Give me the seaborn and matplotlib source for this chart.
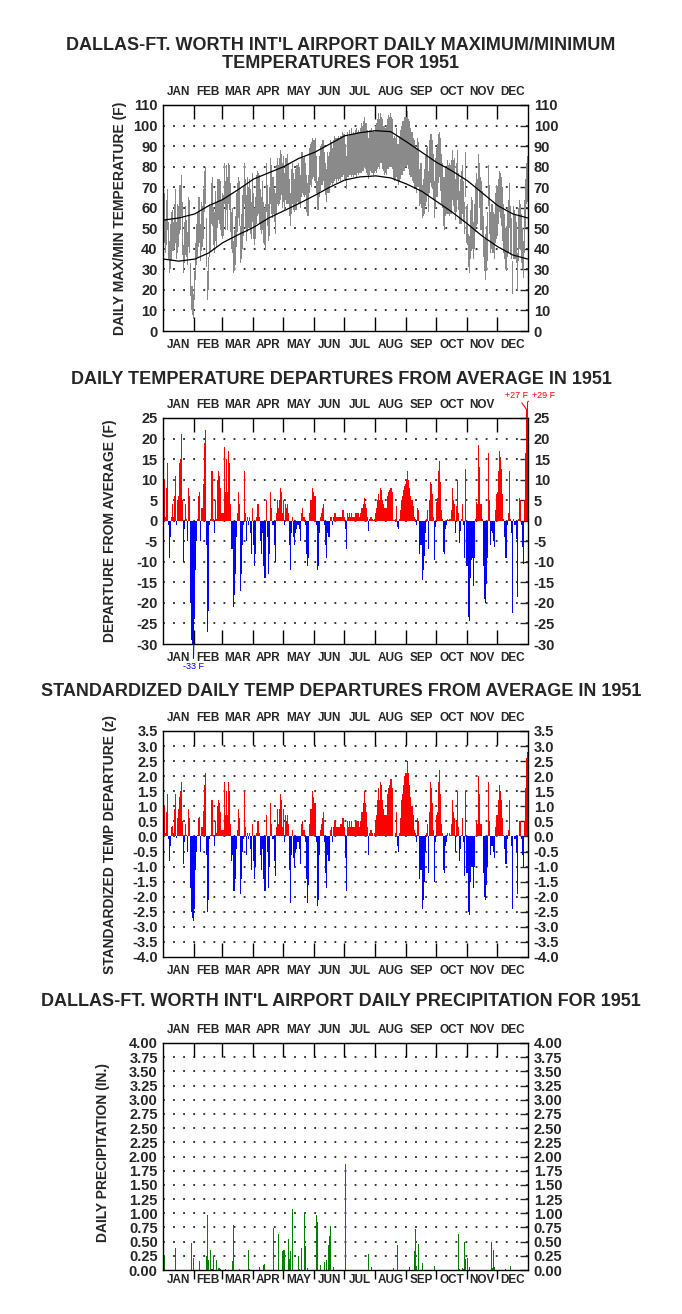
import numpy as np
import matplotlib
matplotlib.use("Agg")
import matplotlib.pyplot as plt
import seaborn as sns

# DFW 1951 daily max/min temps, departures, standardized departures, precipitation
month_names = ["JAN", "FEB", "MAR", "APR", "MAY", "JUN", "JUL", "AUG", "SEP", "OCT", "NOV", "DEC"]
month_len = [31, 28, 31, 30, 31, 30, 31, 31, 30, 31, 30, 31]

# daily maximum temperature (F), one line per month
tmax = [
    67, 67, 54, 64, 69, 53, 44, 52, 58, 59, 53, 62, 69, 53, 62, 61, 71, 71, 76, 63, 42, 53, 61, 54, 48, 65, 64, 33, 22, 22, 18,
    29, 43, 52, 58, 65, 65, 52, 63, 61, 69, 78, 80, 55, 29, 36, 62, 61, 72, 75, 60, 58, 68, 63, 74, 74, 74, 73, 64,
    67, 66, 82, 73, 81, 75, 82, 81, 72, 58, 60, 44, 49, 56, 67, 72, 75, 73, 51, 57, 66, 70, 82, 74, 66, 75, 70, 74, 69, 63, 77,
    67, 60, 65, 76, 78, 77, 76, 69, 65, 73, 63, 60, 62, 82, 71, 62, 70, 84, 81, 75, 75, 69, 67, 81, 84, 81, 84, 88, 86, 82,
    85, 77, 84, 84, 86, 82, 74, 67, 79, 82, 77, 74, 79, 81, 81, 82, 80, 76, 87, 87, 84, 85, 82, 76, 72, 76, 89, 91, 92, 94, 93,
    93, 94, 85, 73, 75, 85, 90, 91, 93, 93, 87, 82, 79, 87, 85, 87, 93, 92, 89, 93, 95, 94, 94, 94, 95, 94, 95, 95, 97, 96,
    96, 91, 85, 97, 95, 98, 96, 99, 96, 97, 96, 98, 99, 97, 98, 97, 99, 101, 100, 102, 104, 101, 101, 98, 94, 98, 98, 99, 97, 98, 97,
    100, 101, 103, 106, 103, 106, 104, 103, 100, 100, 99, 100, 103, 105, 104, 106, 104, 103, 94, 95, 94, 99, 91, 91, 95, 98, 100, 102, 102, 104, 104,
    104, 107, 103, 102, 99, 97, 97, 94, 93, 90, 89, 94, 92, 79, 82, 82, 71, 74, 79, 85, 89, 90, 78, 93, 96, 96, 93, 86, 73, 84,
    89, 91, 96, 97, 94, 86, 82, 75, 75, 80, 79, 83, 81, 82, 81, 83, 88, 83, 84, 74, 82, 88, 77, 68, 74, 78, 81, 73, 63, 87, 61,
    62, 47, 46, 59, 65, 64, 53, 62, 72, 77, 74, 86, 82, 75, 73, 68, 56, 45, 47, 51, 58, 81, 71, 58, 62, 62, 58, 57, 67, 71,
    70, 74, 78, 77, 75, 70, 62, 57, 50, 51, 60, 64, 72, 61, 55, 34, 61, 59, 57, 53, 38, 60, 64, 62, 57, 50, 44, 64, 74, 82, 85,
]

# daily minimum temperature (F)
tmin = [
    47, 43, 38, 42, 49, 35, 28, 30, 34, 39, 39, 40, 43, 35, 38, 41, 47, 49, 56, 37, 28, 33, 37, 36, 32, 41, 38, 17, 10, 8, 6,
    15, 25, 32, 36, 41, 43, 34, 39, 41, 45, 58, 62, 31, 15, 20, 36, 39, 52, 51, 42, 38, 44, 41, 50, 54, 52, 49, 46,
    45, 46, 62, 49, 59, 49, 62, 59, 48, 40, 38, 28, 29, 32, 41, 48, 55, 51, 33, 35, 40, 46, 62, 50, 44, 48, 50, 50, 47, 45, 53,
    45, 42, 45, 52, 56, 57, 52, 49, 47, 49, 43, 42, 40, 58, 51, 44, 46, 62, 57, 55, 57, 53, 47, 57, 62, 61, 62, 64, 66, 60,
    63, 59, 64, 62, 62, 62, 56, 51, 57, 62, 59, 58, 59, 59, 63, 62, 62, 60, 65, 67, 66, 65, 66, 58, 56, 56, 67, 71, 70, 74, 75,
    73, 72, 67, 59, 59, 65, 68, 71, 71, 73, 69, 66, 63, 67, 67, 67, 71, 72, 71, 72, 73, 74, 72, 74, 73, 74, 73, 75, 75, 76,
    74, 73, 69, 75, 75, 76, 76, 75, 76, 75, 76, 76, 75, 77, 76, 77, 77, 77, 78, 78, 80, 79, 77, 76, 74, 76, 78, 77, 77, 76, 77,
    78, 77, 79, 80, 79, 82, 82, 79, 78, 76, 77, 76, 79, 79, 80, 80, 80, 79, 74, 73, 74, 75, 73, 71, 73, 74, 76, 76, 78, 78, 80,
    80, 81, 79, 76, 75, 75, 73, 72, 69, 70, 67, 70, 70, 61, 62, 60, 55, 56, 57, 61, 63, 66, 58, 67, 72, 70, 69, 64, 55, 60,
    65, 65, 72, 75, 68, 62, 60, 51, 49, 56, 57, 57, 57, 56, 57, 57, 64, 61, 58, 54, 58, 64, 59, 52, 52, 52, 57, 53, 47, 65, 43,
    42, 31, 28, 35, 39, 40, 35, 40, 48, 51, 52, 68, 60, 49, 49, 46, 36, 29, 25, 29, 34, 61, 47, 38, 40, 38, 38, 35, 43, 45,
    46, 52, 58, 55, 51, 44, 38, 35, 30, 29, 36, 38, 50, 37, 35, 18, 35, 35, 35, 33, 20, 34, 40, 40, 33, 30, 26, 38, 50, 62, 63,
]

# normal max/min curves (F) at day of year
norm_days = [0, 15, 31, 45, 59, 75, 90, 105, 120, 135, 151, 166, 181, 196, 212, 227, 243, 258, 273, 288, 304, 319, 334, 349, 364]
norm_max = [54, 55, 57, 61, 64, 69, 74, 77, 80, 84, 87, 91, 95, 96.5, 97.5, 97, 92, 87, 82, 78, 73, 67, 61, 57, 55]
norm_min = [35, 34, 35, 38, 43, 47, 50.5, 55, 58.5, 62, 66, 70, 73.5, 75, 75.5, 74.5, 71.5, 68, 63, 58, 52, 46, 41, 37, 35]

# daily departure from average (F)
departure = [
    12, 10, 1, 8, 14, -1, -9, -4, 1, 4, 1, 6, 11, -1, 5, 6, 14, 15, 21, 5, -10, -2, 4, 0.3, -5, 8, 6, -20, -29, -30, -33,
    -24, -12, -5, 0.3, 6, 7, -5, 3, 3, 9, 19, 22, -6, -27, -22, -1, 0.3, 12, 12, 0.3, -3, 5, 0.5, 10, 12, 11, 8, 2,
    2, 2, 18, 7, 15, 7, 17, 14, 4, -7, -7, -21, -18, -13, -4, 2, 7, 4, -17, -13, -6, -1, 12, 2, -5, 1, -1, 1, -3, -8, 3,
    -6, -11, -8, 1, 4, 4, 1, -5, -8, -3, -11, -14, -14, 5, -4, -13, -8, 7, 3, -1, -1, -6, -10, 2, 5, 3, 5, 8, 7, 2,
    5, -1, 4, 3, 4, 2, -6, -12, -3, 1, -4, -6, -3, -2, -1, -1, -2, -5, 2, 3, 1, 1, -1, -8, -11, -9, 2, 5, 5, 8, 7,
    6, 6, -1, -12, -11, -3, 1, 2, 3, 4, -1, -6, -9, -3, -4, -4, 1, 1, -1, 1, 2, 2, 1, 1, 1, 1, 1, 1, 2.5, 2.5,
    1, -2, -7, 2, 1, 2, 1, 2, 1, 1, 1, 2, 2, 2, 2, 1, 2, 3, 3, 4, 5.5, 4, 3, 1, -2.5, 0.5, 1, 1, 0.5, 0.2, 0.5,
    2, 3, 5, 6.5, 5, 8, 7.5, 5, 4, 3, 3, 3, 6, 7, 7.5, 8, 8, 7, 0.2, 0.2, 0.5, 3.5, -1.5, -2, 0.5, 2.5, 5, 6, 7.5, 8.5, 9,
    10, 12, 10, 8, 6, 5, 5, 3.5, 1, 0.5, -1, 3, 2.5, -8, -6, -6, -14.5, -12, -8.5, -3, 0.5, 2.5, -7, 5, 9.5, 9, 6.5, 1, -9.5, -1.5,
    4.5, 5.5, 12, 14.5, 9.5, 2.5, 0.5, -7.5, -8, -2, -1, 0.5, 0.2, 0.5, 0.3, 2.5, 8, 5, 4, -3, 3.5, 10, 2, -5.5, -2.5, 0.3, 4, -1, -9, 12.5, -11,
    -11, -23.5, -24.5, -14, -9.5, -9, -16, -9, 0.3, 4.5, 4, 18.5, 13, 4, 4, 0.3, -11, -19, -20, -15.5, -9, 16.5, 5, -6, -2.5, -3, -5, -6.5, 2.5, 6.5,
    7, 12, 17, 15.5, 12.5, 6.5, 0.5, -4, -9, -9, -1, 2, 12, 0.3, -3, -22.5, 0.3, -1, -1, -4.5, -18.5, 0.3, 5.5, 5, -1, -6.5, -10.5, 5, 16.5, 27, 29,
]

# standardized daily departure (z)
zscore = [
    1.2, 1.0, 0.1, 0.8, 1.4, -0.1, -0.8, -0.3, 0.3, 0.35, 0.1, 0.9, 1.4, -0.05, 0.6, 0.9, 1.3, 1.5, 1.8, 0.5, -0.9, -0.2, 0.4, 0.05, -0.5, 0.9, 0.6, -1.7, -2.5, -2.7, -2.8,
    -2.4, -1.1, -0.5, 0.05, 0.6, 0.65, -0.5, 0.3, 0.3, 0.85, 1.7, 2.1, -0.6, -2.5, -2.1, -0.1, 0.05, 1.2, 1.2, 0.05, -0.3, 0.5, 0.1, 1.0, 1.2, 1.1, 0.8, 0.2,
    0.2, 0.2, 1.8, 0.7, 1.5, 0.7, 1.8, 1.5, 0.4, -0.8, -0.6, -1.8, -1.8, -1.4, -0.4, 0.2, 0.9, 0.6, -1.9, -1.4, -0.5, -0.1, 1.5, 0.3, -0.6, 0.1, -0.1, 0.1, -0.4, -1.1, 0.4,
    -0.8, -1.4, -1.0, 0.1, 0.5, 0.5, 0.1, -0.6, -1.1, -0.4, -1.4, -1.8, -1.8, 0.7, -0.5, -1.7, -1.0, 1.1, 0.4, -0.1, -0.1, -0.8, -1.3, 0.3, 0.9, 0.4, 0.9, 1.4, 1.2, 0.3,
    0.9, -0.2, 0.7, 0.5, 0.7, 0.4, -1.1, -2.2, -0.6, 0.2, -0.7, -1.0, -0.5, -0.4, -0.2, -0.2, -0.4, -0.9, 0.4, 0.5, 0.2, 0.2, -0.2, -1.4, -2.2, -1.6, 0.4, 0.9, 0.9, 1.5, 1.3,
    1.1, 1.1, -0.2, -2.3, -2.1, -0.6, 0.2, 0.4, 0.6, 0.8, -0.2, -1.2, -1.7, -0.6, -0.8, -0.8, 0.2, 0.3, -0.2, 0.3, 0.5, 0.5, 0.3, 0.3, 0.3, 0.3, 0.4, 0.4, 0.6, 0.6,
    0.3, -0.7, -1.8, 0.5, 0.3, 0.5, 0.3, 0.5, 0.3, 0.3, 0.3, 0.5, 0.5, 0.5, 0.5, 0.3, 0.5, 0.8, 0.8, 1.1, 1.5, 1.1, 0.8, 0.3, -0.6, 0.1, 0.2, 0.2, 0.1, 0.02, 0.1,
    0.5, 0.7, 1.2, 1.6, 1.2, 1.8, 1.7, 1.2, 0.9, 0.7, 0.7, 0.7, 1.4, 1.6, 1.7, 1.9, 1.9, 1.6, 0.02, 0.02, 0.1, 0.8, -0.3, -0.5, 0.1, 0.6, 1.2, 1.4, 1.7, 2.0, 2.1,
    2.1, 2.5, 2.1, 1.7, 1.3, 1.0, 1.0, 0.7, 0.2, 0.1, -0.2, 0.6, 0.5, -1.4, -1.1, -1.1, -2.4, -2.1, -1.5, -0.5, 0.1, 0.4, -1.2, 0.8, 1.8, 1.6, 1.1, 0.2, -1.5, -0.2,
    0.7, 0.8, 1.8, 2.2, 1.4, 0.4, 0.1, -1.1, -1.2, -0.3, -0.2, 0.1, 0.02, 0.1, 0.05, 0.4, 1.2, 0.8, 0.6, -0.5, 0.5, 1.5, 0.3, -0.8, -0.4, 0.05, 0.6, -0.2, -1.3, 1.5, -1.2,
    -1.2, -2.5, -2.6, -1.5, -1.0, -1.0, -1.7, -1.0, 0.03, 0.5, 0.4, 2.0, 1.4, 0.4, 0.4, 0.03, -1.2, -2.0, -2.1, -1.6, -1.0, 1.8, 0.5, -0.6, -0.3, -0.3, -0.5, -0.7, 0.3, 0.7,
    0.7, 1.2, 1.7, 1.5, 1.2, 0.6, 0.05, -0.4, -0.9, -0.9, -0.1, 0.2, 1.2, 0.03, -0.3, -2.4, 0.03, -0.1, -0.1, -0.5, -1.9, 0.03, 0.5, 0.5, -0.1, -0.6, -1.0, 0.5, 1.6, 2.6, 2.8,
]

# precipitation: day of year (0 = Jan 1) and amount (in.)
rain_days = [0, 1, 12, 28, 30, 36, 43, 44, 45, 47, 48, 49, 50, 53, 55, 56, 57, 62, 69, 70,
             76, 85, 86, 96, 100, 101, 110, 115, 119, 120, 121, 125, 126, 127, 129, 135, 136, 138, 141, 142,
             144, 153, 154, 157, 161, 163, 165, 166, 167, 170, 182, 205, 208, 230, 234, 246, 251, 252, 253, 255,
             259, 271, 295, 296, 299, 300, 301, 302, 304, 306, 328, 329, 330, 331, 342, 347]
rain_in = [0.09, 0.24, 0.39, 0.48, 0.22, 0.16, 0.25, 0.97, 0.18, 0.35, 0.02, 0.02, 0.24, 0.18, 0.04, 0.04, 0.02, 0.02, 0.15, 0.79,
           0.02, 0.35, 0.02, 0.06, 0.08, 0.10, 0.74, 0.64, 0.34, 0.35, 0.35, 0.55, 0.19, 0.34, 1.08, 0.25, 0.02, 0.39, 1.01, 0.42,
           0.04, 0.97, 0.85, 0.09, 0.14, 0.18, 0.44, 0.60, 0.78, 0.05, 1.87, 0.29, 0.05, 0.04, 0.44, 0.05, 0.34, 0.72, 0.07, 0.46,
           0.12, 0.07, 0.64, 0.02, 0.04, 0.02, 0.49, 0.19, 0.21, 0.05, 0.49, 0.04, 0.35, 0.05, 0.02, 0.07]

sns.set_style("white")
plt.rcParams["font.family"] = ["Liberation Sans Narrow", "Liberation Sans", "DejaVu Sans"]
plt.rcParams["font.weight"] = "bold"

days = np.arange(365)
tmax = np.array(tmax)
tmin = np.array(tmin)
departure = np.array(departure)
zscore = np.array(zscore)
month_starts = np.concatenate([[0], np.cumsum(month_len)])
month_mids = month_starts[:-1] + np.array(month_len) / 2

fig = plt.figure(figsize=(6.82, 13.14), dpi=100)
L, W, H = 0.2394, 0.5352, 0.1720


def frame(ax, ymin, ymax, step, fmt, top_names, bottom_dir="in", bottom_pad=6, blen=10):
    ax.set_xlim(0, 365)
    ax.set_ylim(ymin, ymax)
    yt = np.round(np.arange(ymin, ymax + step / 2, step), 2)
    ax.set_yticks(yt)
    ax.set_yticklabels([fmt % v for v in yt])
    ax.tick_params(axis="y", left=False, right=True, labelleft=True, labelright=True,
                   direction="in", length=6, width=1, labelsize=10.5, pad=4)
    for v in yt[1:-1]:
        ax.axhline(v, color="black", lw=1.1, ls=(0, (1.2, 5.4)), zorder=0.5)
    ax.set_xticks(month_starts[1:-1])
    ax.set_xticklabels([])
    ax.set_xticks(month_mids, minor=True)
    ax.set_xticklabels(month_names, minor=True)
    ax.tick_params(axis="x", which="major", direction=bottom_dir, length=blen, width=1,
                   bottom=True, top=False, color="black")
    ax.tick_params(axis="x", which="minor", length=0, labelsize=8.5, pad=bottom_pad, bottom=True)
    top = ax.secondary_xaxis("top")
    top.set_xticks(month_starts[1:-1])
    top.set_xticklabels([])
    top.set_xticks(month_mids, minor=True)
    top.set_xticklabels(top_names, minor=True)
    top.tick_params(which="major", direction="in", length=10, width=1, top=True, color="black")
    top.tick_params(which="minor", length=0, labelsize=8.5, pad=5)
    for s in ax.spines.values():
        s.set_color("black")
        s.set_linewidth(1)
    return top


# panel 1: max/min temperatures
ax1 = fig.add_axes([L, 1 - 331 / 1314, W, H])
ax1.bar(days, tmax - tmin, bottom=tmin, width=1.0, align="edge", color="#8a8a8a", linewidth=0, zorder=2)
sns.lineplot(x=np.array(norm_days) + 0.5, y=norm_max, color="black", lw=0.9, ax=ax1, zorder=3)
sns.lineplot(x=np.array(norm_days) + 0.5, y=norm_min, color="black", lw=0.9, ax=ax1, zorder=3)
frame(ax1, 0, 110, 10, "%d", month_names)
ax1.set_xlabel("")
ax1.set_ylabel("")

# panel 2: departures
ax2 = fig.add_axes([L, 1 - 644 / 1314, W, H])
pos = departure >= 0
ax2.bar(days[pos], departure[pos], width=1.0, align="edge", color="#ff0000", linewidth=0, clip_on=False, zorder=2)
ax2.bar(days[~pos], departure[~pos], width=1.0, align="edge", color="#0000ff", linewidth=0, zorder=2)
frame(ax2, -30, 25, 5, "%d", month_names[:-1] + [""])
red_line = dict(arrowstyle="-", color="#ff0000", lw=0.8, shrinkA=0, shrinkB=0)
ax2.annotate("+27 F", xy=(363.5, 27), xytext=(353, 29.5), color="#ff0000", fontsize=6.5,
             fontweight="normal", ha="center", va="bottom", annotation_clip=False, arrowprops=red_line)
ax2.annotate("+29 F", xy=(364.5, 29), xytext=(380, 29.5), color="#ff0000", fontsize=6.5,
             fontweight="normal", ha="center", va="bottom", annotation_clip=False, arrowprops=red_line)
ax2.annotate("-33 F", xy=(30.5, -30), xytext=(30, -34.3), color="#0000ff", fontsize=6.5,
             fontweight="normal", ha="center", va="top", annotation_clip=False,
             arrowprops=dict(arrowstyle="-", color="#0000ff", lw=0.8, shrinkA=0, shrinkB=0))

# panel 3: standardized departures
ax3 = fig.add_axes([L, 1 - 957 / 1314, W, H])
zpos = zscore >= 0
ax3.bar(days[zpos], zscore[zpos], width=1.0, align="edge", color="#ff0000", linewidth=0, zorder=2)
ax3.bar(days[~zpos], zscore[~zpos], width=1.0, align="edge", color="#0000ff", linewidth=0, zorder=2)
frame(ax3, -4.0, 3.5, 0.5, "%.1f", month_names)

# panel 4: precipitation
ax4 = fig.add_axes([L, 1 - 1270 / 1314, W, 227 / 1314])
ax4.bar(rain_days, rain_in, width=0.9, align="edge", color="#008000", linewidth=0, zorder=2)
frame(ax4, 0, 4.0, 0.25, "%.2f", month_names, bottom_dir="out", bottom_pad=3, blen=6.5)

# titles and axis labels
tkw = dict(ha="center", va="center", fontsize=13, fontweight="bold")
fig.text(0.5, 1 - 45 / 1314, "DALLAS-FT. WORTH INT'L AIRPORT DAILY MAXIMUM/MINIMUM", **tkw)
fig.text(0.5, 1 - 64 / 1314, "TEMPERATURES FOR 1951", **tkw)
fig.text(0.5, 1 - 380 / 1314, "DAILY TEMPERATURE DEPARTURES FROM AVERAGE IN 1951", **tkw)
fig.text(0.5, 1 - 692 / 1314, "STANDARDIZED DAILY TEMP DEPARTURES FROM AVERAGE IN 1951", **tkw)
fig.text(0.5, 1 - 1002 / 1314, "DALLAS-FT. WORTH INT'L AIRPORT DAILY PRECIPITATION FOR 1951", **tkw)

ykw = dict(ha="center", va="center", rotation=90, fontsize=10, fontweight="bold")
fig.text(120 / 682, 1 - 218 / 1314, "DAILY MAX/MIN TEMPERATURE (F)", **ykw)
fig.text(110 / 682, 1 - 531 / 1314, "DEPARTURE FROM AVERAGE (F)", **ykw)
fig.text(110 / 682, 1 - 845 / 1314, "STANDARDIZED TEMP DEPARTURE (z)", **ykw)
fig.text(103 / 682, 1 - 1152 / 1314, "DAILY PRECIPITATION (IN.)", **ykw)

fig.savefig("out.png", dpi=100, facecolor="white")
